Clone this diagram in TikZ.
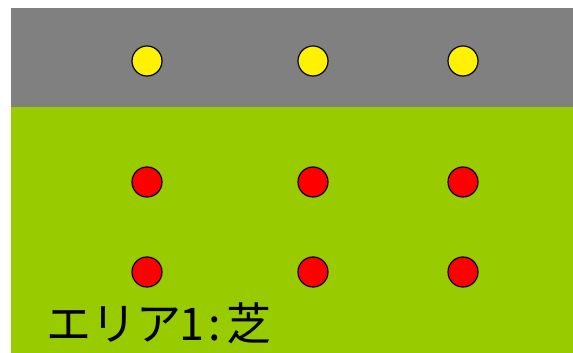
\documentclass[tikz,border=0pt]{standalone}
\usepackage{fontspec}
\newfontfamily\jpfont{Noto Sans CJK JP}
\definecolor{grass}{HTML}{99CC00}
\definecolor{road}{HTML}{808080}
\begin{document}
\begin{tikzpicture}[x=1pt,y=1pt,
  dot/.style={circle,draw=black,line width=1.2pt,minimum size=30pt,inner sep=0pt},
  ydot/.style={dot,fill=yellow},
  rdot/.style={dot,fill=red}]
\useasboundingbox (0,0) rectangle (573,353);
\fill[grass] (11,0) rectangle (573,246);
\fill[road] (11,246) rectangle (573,345);
\node[ydot] (y1) at (147,292) {};
\node[ydot] (y2) at (313,292) {};
\node[ydot] (y3) at (463,292) {};
\node[rdot] (r1) at (147,171) {};
\node[rdot] (r2) at (313,171) {};
\node[rdot] (r3) at (463,171) {};
\node[rdot] (s1) at (147,81) {};
\node[rdot] (s2) at (313,81) {};
\node[rdot] (s3) at (463,81) {};
\node[anchor=base west,inner sep=0pt,font=\jpfont\fontsize{45}{45}\selectfont] (lbl) at (46,12) {エリア\makebox[0.5em]{1}\makebox[0.5em]{:}芝};
\end{tikzpicture}
\end{document}
